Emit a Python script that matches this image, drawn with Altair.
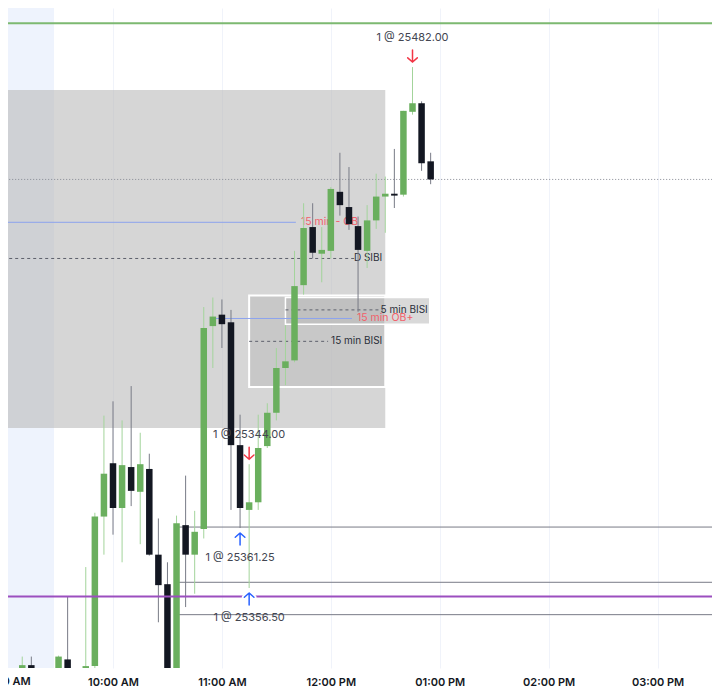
import altair as alt
import pandas as pd

DAY = "2025-10-08"

def ts(hm):
    if hm.count(":") == 1:
        hm += ":00"
    return f"{DAY}T{hm}"

def dt(h, m=0, s=0):
    return alt.DateTime(year=2025, month=10, date=8, hours=h, minutes=m, seconds=s)

# ---------------- data (5-minute candles) ----------------
bar_times = ["09:10", "09:15", "09:30", "09:35", "09:40", "09:45", "09:50", "09:55",
             "10:00", "10:05", "10:10", "10:15", "10:20", "10:25", "10:30", "10:35",
             "10:40", "10:45", "10:50", "10:55", "11:00", "11:05", "11:10", "11:15",
             "11:20", "11:25", "11:30", "11:35", "11:40", "11:45", "11:50", "11:55",
             "12:00", "12:05", "12:10", "12:15", "12:20", "12:25", "12:30", "12:35",
             "12:40", "12:45", "12:50", "12:55"]
opens = [25324.0, 25325.0, 25322.5, 25326.5, 25321.0, 25315.75, 25324.75, 25364.0,
         25378.0, 25366.25, 25377.0, 25370.5, 25376.5, 25354.0, 25346.25, 25318.5,
         25361.75, 25354.0, 25360.75, 25414.0, 25417.0, 25415.0, 25382.75, 25365.75,
         25367.75, 25382.5, 25391.25, 25403.0, 25405.0, 25424.75, 25440.0, 25433.0,
         25433.75, 25449.25, 25445.25, 25440.25, 25433.75, 25441.75, 25448.0, 25448.75,
         25448.5, 25470.25, 25472.5, 25457.25]
highs = [25327.25, 25327.25, 25327.5, 25343.0, 25323.25, 25350.75, 25365.0, 25390.5,
         25394.25, 25389.25, 25398.25, 25386.0, 25380.5, 25363.5, 25352.0, 25364.25,
         25374.75, 25365.5, 25419.0, 25421.5, 25421.0, 25418.25, 25390.75, 25377.75,
         25390.75, 25393.75, 25408.25, 25414.25, 25433.75, 25446.25, 25446.25, 25440.0,
         25450.5, 25459.5, 25455.75, 25442.75, 25445.75, 25454.0, 25453.25, 25460.5,
         25470.5, 25482.0, 25473.0, 25459.5]
lows = [25323.25, 25322.5, 25321.0, 25318.5, 25314.5, 25314.5, 25323.75, 25354.0,
        25359.25, 25352.0, 25366.75, 25356.75, 25353.75, 25336.25, 25314.5, 25315.75,
        25340.25, 25343.75, 25358.25, 25403.0, 25408.25, 25365.75, 25361.0, 25345.25,
        25365.75, 25382.0, 25389.25, 25398.5, 25404.5, 25422.25, 25431.75, 25425.5,
        25431.75, 25443.0, 25439.25, 25417.75, 25429.25, 25439.5, 25438.5, 25445.0,
        25448.0, 25469.5, 25454.75, 25451.25]
closes = [25325.0, 25323.5, 25327.25, 25321.0, 25315.75, 25324.75, 25364.0, 25375.25,
          25366.25, 25377.5, 25370.75, 25377.75, 25354.0, 25346.0, 25318.5, 25362.25,
          25354.0, 25360.0, 25413.5, 25416.5, 25414.5, 25382.75, 25366.25, 25367.75,
          25382.0, 25391.25, 25403.0, 25404.75, 25424.5, 25439.75, 25433.25, 25434.0,
          25450.0, 25445.75, 25440.75, 25434.0, 25441.75, 25448.0, 25448.75, 25448.25,
          25470.5, 25472.5, 25456.75, 25452.5]

# trades (executions)
trade_times = ["12:45", "11:15", "11:10", "11:15"]
trade_sides = ["sell", "sell", "buy", "buy"]
trade_prices = [25482.00, 25344.00, 25361.25, 25356.50]

# price levels
level_green = 25493.5
level_purple = 25343.0
level_grey = [25361.25, 25346.75, 25338.25]
last_close = closes[-1]
ob_minus = 25441.25
ob_plus = 25416.0
sibi_mid = 25431.75
bisi5_mid = 25418.25
bisi15_mid = 25410.0

# zones: name, start, end, low, high
zone_names = ["SIBI", "BISI15", "BISI5"]
zone_start = ["08:00", "11:15", "11:35"]
zone_end = ["12:30", "12:30", "12:54:30"]
zone_low = [25387.25, 25398.0, 25414.5]
zone_high = [25476.0, 25422.0, 25421.5]

x_ticks = [10, 11, 12, 13, 14, 15]

PMIN, PMAX = 25324.25, 25497.5
W, H = 704, 660
FONT = "Inter"

# ---------------- scales ----------------
XSCALE = alt.Scale(domain=[dt(9, 2, 9), dt(15, 30, 0)])
YSCALE = alt.Scale(domain=[PMIN, PMAX], zero=False, nice=False)
XAXIS = alt.Axis(values=[dt(h) for h in x_ticks], format="%I:%M %p", title=None,
                 grid=True, gridColor="#f0f3fa", gridWidth=1, domain=False, ticks=False,
                 labelFont=FONT, labelFontSize=11, labelFontWeight=600,
                 labelColor="#131722", labelPadding=8, labelFlush=False)

def X(f):
    return alt.X(f, type="temporal", scale=XSCALE, axis=XAXIS)

def Y(f):
    return alt.Y(f, type="quantitative", scale=YSCALE, axis=None)

# ---------------- frames ----------------
candles = pd.DataFrame({"t": [ts(t) for t in bar_times], "open": opens, "high": highs,
                        "low": lows, "close": closes})
zones = pd.DataFrame({"name": zone_names, "t": [ts(t) for t in zone_start],
                      "t2": [ts(t) for t in zone_end], "lo": zone_low, "hi": zone_high})

bar_lookup = candles.set_index("t")
tr = pd.DataFrame({"t": [ts(t) for t in trade_times], "side": trade_sides, "price": trade_prices})
tr["anchor"] = [bar_lookup.loc[r.t, "high"] if r.side == "sell" else bar_lookup.loc[r.t, "low"]
                for r in tr.itertuples()]
tr["label"] = [f"1 @ {p:.2f}" for p in tr["price"]]

# ---------------- layers ----------------
premarket = alt.Chart(pd.DataFrame({"t": [ts("08:00")], "t2": [ts("09:27:30")],
                                    "p": [PMIN], "p2": [PMAX]})).mark_rect(
    color="#eef3fd", clip=True).encode(x=X("t"), x2="t2", y=Y("p"), y2="p2")

zbase = alt.Chart(zones)
z_sibi = zbase.transform_filter("datum.name == 'SIBI'").mark_rect(
    color="#b9b9b9", opacity=0.59, clip=True).encode(x=X("t"), x2="t2", y=Y("lo"), y2="hi")
z_b15 = zbase.transform_filter("datum.name == 'BISI15'").mark_rect(
    fill="#b9b9b9", fillOpacity=0.5, stroke="white", strokeWidth=2, clip=True).encode(
    x=X("t"), x2="t2", y=Y("lo"), y2="hi")
z_b5 = zbase.transform_filter("datum.name == 'BISI5'").mark_rect(
    fill="#b9b9b9", fillOpacity=0.55, stroke="white", strokeWidth=1.5, clip=True).encode(
    x=X("t"), x2="t2", y=Y("lo"), y2="hi")

def hline(p, t0, t1, **kw):
    df = pd.DataFrame({"t": [ts(t0)], "t2": [ts(t1)], "p": [p]})
    return alt.Chart(df).mark_rule(clip=True, **kw).encode(x=X("t"), x2="t2", y=Y("p"))

lines = [
    hline(last_close, "08:00", "16:00", color="#868993", strokeWidth=1, strokeDash=[1, 2]),
    hline(ob_minus, "08:00", "11:40:45", color="#8ca3ee", strokeWidth=1),
    hline(ob_plus, "10:55", "12:11:40", color="#8ca3ee", strokeWidth=1),
    hline(sibi_mid, "08:00", "12:13:20", color="#5d606b", strokeWidth=1, strokeDash=[3, 3]),
    hline(bisi5_mid, "11:35", "12:28:45", color="#5d606b", strokeWidth=1, strokeDash=[3, 3]),
    hline(bisi15_mid, "11:15", "11:58:30", color="#5d606b", strokeWidth=1, strokeDash=[3, 3]),
    hline(level_green, "08:00", "16:00", color="#7db971", strokeWidth=2),
]
for g in level_grey:
    lines.append(hline(g, "10:35", "16:00", color="#787b86", strokeWidth=1))
purple = hline(level_purple, "08:00", "16:00", color="#9b4fbf", strokeWidth=2)

def ltext(txt, t, p, align, dx, color, size=10):
    df = pd.DataFrame({"t": [ts(t)], "p": [p], "txt": [txt]})
    return alt.Chart(df).mark_text(align=align, baseline="middle", dx=dx, font=FONT,
                                   fontSize=size, color=color).encode(
        x=X("t"), y=Y("p"), text="txt:N")

texts = [
    ltext("15 min - OB", "11:40:45", ob_minus, "left", 5, "#f2606b", 10.5),
    ltext("15 min OB+", "12:11:40", ob_plus, "left", 5, "#f2606b", 10.5),
    ltext("D SIBI", "12:30", sibi_mid, "right", -3, "#2a2e39"),
    ltext("5 min BISI", "12:54:30", bisi5_mid, "right", -2, "#2a2e39"),
    ltext("15 min BISI", "12:30", bisi15_mid, "right", -3, "#2a2e39"),
]

cbase = alt.Chart(candles)
up = "datum.close >= datum.open"
wicks = cbase.mark_rule(strokeWidth=1, clip=True).encode(
    x=X("t"), y=Y("low"), y2="high",
    color=alt.condition(up, alt.value("#a3d49b"), alt.value("#787b86")))
bodies = cbase.mark_rule(strokeWidth=6.5, strokeCap="butt", clip=True).encode(
    x=X("t"), y=Y("open"), y2="close",
    color=alt.condition(up, alt.value("#6aaf5e"), alt.value("#131722")))

DOWN = "M0,-1L0,1M-0.8,0.3L0,1L0.8,0.3"
UPA = "M0,1L0,-1M-0.8,-0.3L0,-1L0.8,-0.3"
tbase = alt.Chart(tr)
sells = tbase.transform_filter("datum.side == 'sell'")
buys = tbase.transform_filter("datum.side == 'buy'")

def arrow(base, shape, off, color, width):
    return base.mark_point(shape=shape, size=144, filled=False, opacity=1,
                           strokeWidth=width, strokeCap="round", yOffset=off,
                           color=color).encode(x=X("t"), y=Y("anchor"))

arrows = [
    arrow(buys, UPA, 11, "white", 5),
    arrow(sells, DOWN, -11, "#f23645", 1.5),
    arrow(buys, UPA, 11, "#2962ff", 1.5),
]
tlabels = [
    sells.mark_text(dy=-29.5, font=FONT, fontSize=11, color="#434651").encode(
        x=X("t"), y=Y("anchor"), text="label:N"),
    buys.mark_text(dy=29.5, font=FONT, fontSize=11, color="#434651").encode(
        x=X("t"), y=Y("anchor"), text="label:N"),
]

nine = alt.Chart(pd.DataFrame({"t": [ts("09:00")], "p": [PMIN], "txt": ["09:00 AM"]})).mark_text(
    baseline="top", dy=8, font=FONT, fontSize=11, fontWeight=600, color="#131722").encode(
    x=X("t"), y=Y("p"), text="txt:N")

chart = alt.layer(
    premarket, z_sibi, z_b15, z_b5, *lines, *texts, wicks, bodies, purple, *arrows, *tlabels, nine
).properties(
    width=W, height=H,
    autosize=alt.AutoSizeParams(type="none"),
    padding={"left": 0, "top": 0, "right": 0, "bottom": 22},
    background="white",
).configure_view(stroke=None)

chart.save("out.html", embed_options={"renderer": "svg", "actions": False})
